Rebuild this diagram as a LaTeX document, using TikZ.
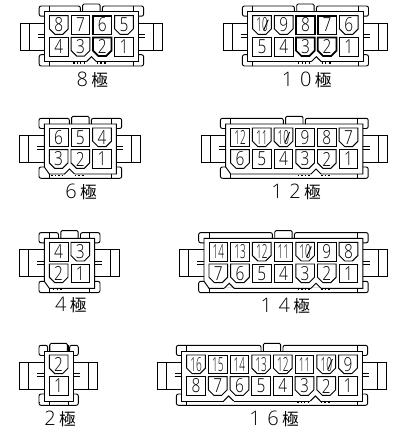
\documentclass[tikz,border=0pt]{standalone}
\usepackage{fontspec}
\setmainfont{Liberation Sans}
\newfontfamily\cjkfont{Noto Sans CJK JP}
\newfontfamily\digitfont{Open Sans}[UprightFont=* Light]

\tikzset{
  part/.style={line width=0.7pt},
  thickpart/.style={line width=1.3pt},
  pin/.style={inner sep=0pt,font=\digitfont\fontsize{14.5pt}{14.5pt}\selectfont},
  polelabel/.style={inner sep=0pt,font=\fontsize{15pt}{15pt}\selectfont},
  bumps/.style={line width=1pt,dash pattern=on 1pt off 1.6pt},
}

% one square contact and one with cut corners: x, y, number
\newcommand{\pinlabel}[3]{
  \ifnum#3>9
    \node[pin] (pin\polename-#3) at (#1+9.35,#2+9.3) {\scalebox{0.52}[1]{#3}};
  \else
    \node[pin] (pin\polename-#3) at (#1+9.35,#2+9.3) {\scalebox{0.8}[1]{#3}};
  \fi
  \ifnum#3=10 \draw[part] (#1+11,#2+14.5) -- (#1+15.5,#2+4); \fi
}
\newcommand{\cells}[3]{\draw[part] (#1,#2) rectangle (#1+18.7,#2+18.7); \pinlabel{#1}{#2}{#3}}
\newcommand{\cellt}[3]{\draw[thickpart] (#1,#2) rectangle (#1+18.7,#2+18.7); \pinlabel{#1}{#2}{#3}}
\newcommand{\cellc}[3]{\draw[part] (#1,#2) -- (#1+18.7,#2) -- (#1+18.7,#2+13.2) -- (#1+13.2,#2+18.7) -- (#1+5.5,#2+18.7) -- (#1,#2+13.2) -- cycle; \pinlabel{#1}{#2}{#3}}
\newcommand{\celld}[3]{\draw[thickpart] (#1,#2) -- (#1+18.7,#2) -- (#1+18.7,#2+13.2) -- (#1+13.2,#2+18.7) -- (#1+5.5,#2+18.7) -- (#1,#2+13.2) -- cycle; \pinlabel{#1}{#2}{#3}}

% x, y, columns, top row, bottom row, notches, cut body corner (0/1)
\newcommand{\connector}[7]{
  \def\polename{#3}
  \begin{scope}[shift={(#1,#2)}]
    \pgfmathsetmacro{\bw}{7+21.7*#3}
    \pgfmathsetmacro{\cx}{\bw/2}
    %Body
    \ifnum#7=1
      \draw[part] (0,0) -- (\bw,0) -- (\bw,50) -- (5,50) -- (0,43) -- cycle;
    \else
      \draw[part] (0,0) rectangle (\bw,50);
    \fi
    %Wings
    \draw[part] (0,11.4) -- (-24.5,11.4) -- (-24.5,38.3) -- (0,38.3);
    \draw[part] (-15.5,11.4) -- (-15.5,38.3);
    \draw[part] (\bw,11.4) -- (\bw+24.5,11.4) -- (\bw+24.5,38.3) -- (\bw,38.3);
    \draw[part] (\bw+15.5,11.4) -- (\bw+15.5,38.3);
    \draw[part] (-7,22.9) -- (0,22.9) (-7,25.9) -- (0,25.9);
    \draw[part] (\bw,22.9) -- (\bw+7,22.9) (\bw,25.9) -- (\bw+7,25.9);
    %Top clips and tab
    \draw[part,rounded corners=1.5] (0,4.5) -- (-5.3,4.5) -- (-5.3,-5.7) -- (\cx-11,-5.7) -- (\cx-11,0);
    \draw[part,rounded corners=1.5] (\bw,4.5) -- (\bw+5.3,4.5) -- (\bw+5.3,-5.7) -- (\cx+11,-5.7) -- (\cx+11,0);
    \draw[part] (5,-5.7) -- (5,0) (\bw-5,-5.7) -- (\bw-5,0);
    \draw[part,rounded corners=1] (\cx-8.7,0) -- (\cx-8.7,-7.7) -- (\cx+8.7,-7.7) -- (\cx+8.7,0);
    %Bottom rail
    \draw[part,rounded corners=1.5] (0,43) -- (-5.3,43) -- (-5.3,54.3) -- (\bw+5.3,54.3) -- (\bw+5.3,43) -- (\bw,43);
    \draw[part] (5,50) -- (5,54.3) (\bw-5,50) -- (\bw-5,54.3);
    %Notches
    \foreach \gap in {#6} {
      \draw[white,line width=1.2pt] (3.5+21.7*\gap-5,50) -- (3.5+21.7*\gap+5,50);
      \draw[part] (3.5+21.7*\gap-5,50) -- (3.5+21.7*\gap,45) -- (3.5+21.7*\gap+5,50);
    }
    %Bumps under contacts 3, 2 and 1
    \draw[bumps] (5+21.7*#3-21.7-9.35-0.5,51.2) -- (5+21.7*#3-21.7-9.35+0.5,51.2);
    \ifnum#3>1 \draw[bumps] (5+21.7*#3-43.4+3.8,51.2) -- (5+21.7*#3-43.4+13.8,51.2); \fi
    \ifnum#3>2 \draw[bumps] (5+21.7*#3-65.1+2,51.2) -- (5+21.7*#3-65.1+13.8,51.2); \fi
    %Contacts
    \foreach \num/\kind [count=\i from 0] in {#4} {
      \pgfmathsetmacro{\px}{5+21.7*\i}
      \csname cell\kind\endcsname{\px}{4}{\num}
    }
    \foreach \num/\kind [count=\i from 0] in {#5} {
      \pgfmathsetmacro{\px}{5+21.7*\i}
      \csname cell\kind\endcsname{\px}{25.7}{\num}
    }
  \end{scope}
}

\begin{document}
\begin{tikzpicture}[x=0.75pt,y=0.75pt,yscale=-1,xscale=1]
  \useasboundingbox (0,0) rectangle (402,436);

  %Left column
  \connector{44.5}{11.7}{4}{8/c,7/s,6/t,5/c}{4/s,3/c,2/d,1/s}{2}{0}
  \connector{44.3}{124}{3}{6/s,5/s,4/c}{3/c,2/c,1/s}{1}{1}
  \connector{44.3}{238.3}{2}{4/s,3/c}{2/c,1/s}{}{1}
  \connector{44.3}{351}{1}{2/c}{1/s}{}{0}

  %Right column
  \connector{247.7}{11.7}{5}{10/c,9/c,8/t,7/t,6/c}{5/s,4/s,3/d,2/d,1/s}{3}{0}
  \connector{225.7}{124}{6}{12/s,11/c,10/c,9/s,8/s,7/c}{6/c,5/s,4/s,3/c,2/c,1/s}{4}{1}
  \connector{204}{238.3}{7}{14/s,13/s,12/c,11/s,10/c,9/s,8/c}{7/c,6/c,5/s,4/s,3/c,2/c,1/s}{1,5}{1}
  \connector{181.7}{351}{8}{16/c,15/s,14/s,13/c,12/c,11/s,10/c,9/c}{8/s,7/c,6/c,5/s,4/s,3/c,2/c,1/s}{2,6}{0}

  % Text Node
  \node[polelabel] (label8) at (92.3,80) {\digitfont 8\,\cjkfont\fontsize{12.5pt}{13pt}\selectfont 極};
  \node[polelabel] (label10) at (306.7,80) {\digitfont 1\hspace{5pt}0\,\cjkfont\fontsize{12.5pt}{13pt}\selectfont 極};
  \node[polelabel] (label6) at (81,191.7) {\digitfont 6\,\cjkfont\fontsize{12.5pt}{13pt}\selectfont 極};
  \node[polelabel] (label12) at (296,192.3) {\digitfont 1\hspace{5pt}2\,\cjkfont\fontsize{12.5pt}{13pt}\selectfont 極};
  \node[polelabel] (label4) at (70.8,305) {\digitfont 4\,\cjkfont\fontsize{12.5pt}{13pt}\selectfont 極};
  \node[polelabel] (label14) at (285.3,306) {\digitfont 1\hspace{5pt}4\,\cjkfont\fontsize{12.5pt}{13pt}\selectfont 極};
  \node[polelabel] (label2) at (60,419) {\digitfont 2\,\cjkfont\fontsize{12.5pt}{13pt}\selectfont 極};
  \node[polelabel] (label16) at (274,418.7) {\digitfont 1\hspace{5pt}6\,\cjkfont\fontsize{12.5pt}{13pt}\selectfont 極};
\end{tikzpicture}
\end{document}
